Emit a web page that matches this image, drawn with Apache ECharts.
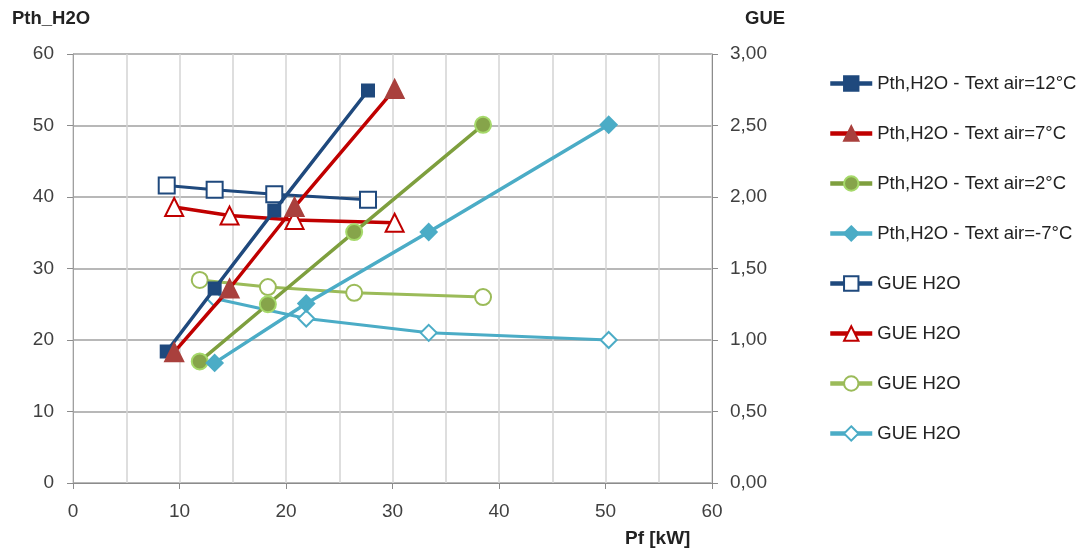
<!DOCTYPE html>
<html><head><meta charset="utf-8">
<script src="https://cdn.jsdelivr.net/npm/echarts@6/dist/echarts.min.js"></script>
<style>html,body{margin:0;padding:0;background:#fff}#c{width:1083px;height:551px}</style>
</head><body><div id="c"></div>
<script>
// Pf [kW] (x) and Pth_H2O (left axis) for each outdoor air temperature
const pf12 = [8.8, 13.3, 18.9, 27.7];
const pth12 = [18.4, 27.2, 38.1, 54.9];
const pf7 = [9.5, 14.7, 20.8, 30.2];
const pth7 = [18.3, 27.2, 38.6, 55.1];
const pf2 = [11.9, 18.3, 26.4, 38.5];
const pth2 = [17.0, 25.0, 35.1, 50.1];
const pfm7 = [13.3, 21.9, 33.4, 50.3];
const pthm7 = [16.8, 25.1, 35.1, 50.1];
// GUE (right axis)
const gue12 = [2.08, 2.05, 2.02, 1.98];
const gue7 = [1.93, 1.87, 1.84, 1.82];
const gue2 = [1.42, 1.37, 1.33, 1.30];
const guem7 = [1.29, 1.15, 1.05, 1.00];
const names = ['Pth,H2O - Text air=12°C','Pth,H2O - Text air=7°C','Pth,H2O - Text air=2°C','Pth,H2O - Text air=-7°C','GUE H2O','GUE H2O','GUE H2O','GUE H2O'];
const xTicks = [0,10,20,30,40,50,60];

const FONT = 'Liberation Sans';
const keys = names.map((n,i)=>n+'#'+i);
const pair = (xs, ys) => xs.map((x,i)=>[x, ys[i]]);
function ser(i, xs, ys, yIdx, color, symbol, size, fill, border, lw){
  return {name: keys[i], type:'line', xAxisIndex:0, yAxisIndex:yIdx, data: pair(xs,ys),
    symbol: symbol, symbolSize: size, showSymbol:true,
    lineStyle:{color: color, width: lw},
    itemStyle:{color: fill, borderColor: border, borderWidth: 2},
    z: yIdx===1 ? 3 : 4, animation:false};
}
const chart = echarts.init(document.getElementById('c'));
chart.setOption({
  animation:false,
  grid:{left:73, right:371, top:54, bottom:68, containLabel:false},
  legend:{orient:'vertical', left:828, top:74, padding:0, itemWidth:42, itemHeight:18, itemGap:31,
    lineStyle:{width:4.5},
    formatter: n => n.split('#')[0],
    textStyle:{fontFamily:FONT, fontSize:18.5, color:'#222'},
    data: keys },
  xAxis:{type:'value', min:0, max:60, interval:10,
    axisLine:{show:true, lineStyle:{color:'#8c8c8c', width:1}},
    axisTick:{show:true, length:6, lineStyle:{color:'#8c8c8c'}},
    axisLabel:{fontFamily:FONT, fontSize:19, color:'#404040', margin:19},
    splitLine:{show:true, lineStyle:{color:'#d4d4d4', width:1.5}},
    minorTick:{show:false, splitNumber:2},
    minorSplitLine:{show:true, lineStyle:{color:'#d4d4d4', width:1.5}}},
  yAxis:[
    {type:'value', min:0, max:60, interval:10, position:'left',
     axisLine:{show:true, lineStyle:{color:'#a0a0a0'}}, axisTick:{show:true, length:6, lineStyle:{color:'#8c8c8c'}},
     axisLabel:{fontFamily:FONT, fontSize:19, color:'#404040', margin:19},
     splitLine:{show:true, lineStyle:{color:'#a0a0a0', width:1.5}}},
    {type:'value', min:0, max:3, interval:0.5, position:'right',
     axisLine:{show:true, lineStyle:{color:'#8c8c8c'}}, axisTick:{show:true, length:6, lineStyle:{color:'#8c8c8c'}},
     axisLabel:{fontFamily:FONT, fontSize:19, color:'#404040', margin:18, formatter:v=>v.toFixed(2).replace('.',',')},
     splitLine:{show:false}}
  ],
  graphic:[
    {type:'text', left:12, top:9, style:{text:'Pth_H2O', font:'bold 18.5px '+FONT, fill:'#222'}},
    {type:'text', left:745, top:9, style:{text:'GUE', font:'bold 18.5px '+FONT, fill:'#222'}},
    {type:'text', left:625, top:529, style:{text:'Pf [kW]', font:'bold 19px '+FONT, fill:'#222'}}
  ],
  series:[
    ser(0, pf12, pth12, 0, '#1F497D', 'rect', 12, '#1F497D', '#1F497D', 3.5),
    ser(1, pf7, pth7, 0, '#C00000', 'triangle', 18, '#A9403D', '#A9403D', 3.5),
    ser(2, pf2, pth2, 0, '#7E9F3E', 'circle', 16, '#86A44A', '#A6D96A', 3.5),
    ser(3, pfm7, pthm7, 0, '#4BACC6', 'diamond', 16, '#4BACC6', '#4BACC6', 3.5),
    ser(4, pf12, gue12, 1, '#1F497D', 'rect', 16, '#ffffff', '#1F497D', 3),
    ser(5, pf7, gue7, 1, '#C00000', 'triangle', 18, '#ffffff', '#C00000', 3.5),
    ser(6, pf2, gue2, 1, '#9BBB59', 'circle', 16, '#ffffff', '#9BBB59', 3),
    ser(7, pfm7, guem7, 1, '#4BACC6', 'diamond', 16, '#ffffff', '#4BACC6', 3)
  ]
});
</script></body></html>
